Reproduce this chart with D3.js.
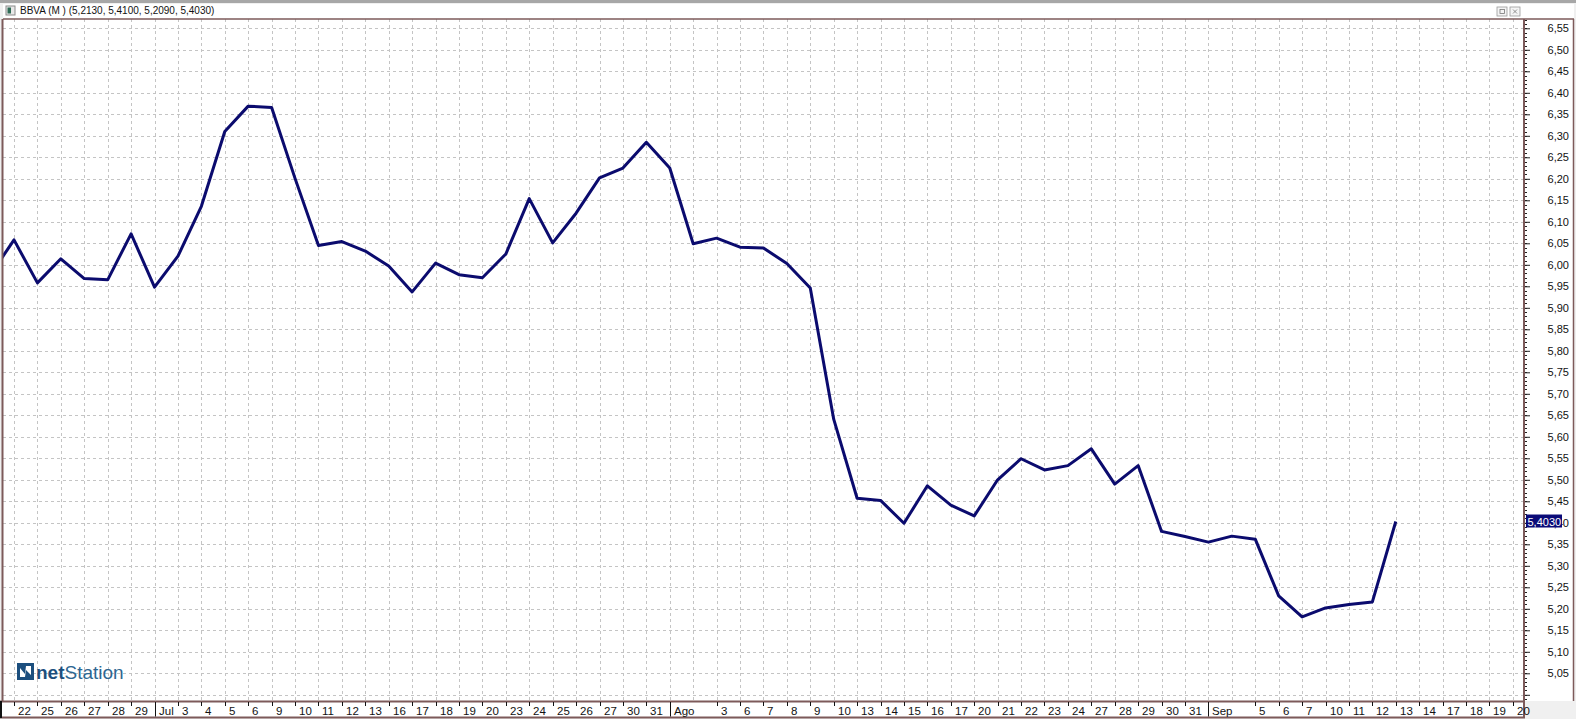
<!DOCTYPE html>
<html>
<head>
<meta charset="utf-8">
<script src="https://cdn.jsdelivr.net/npm/d3@7"></script>
<style>
body { margin:0; background:#f0f0f0; }
svg text { font-family: "Liberation Sans", Arial, sans-serif; }
</style>
</head>
<body>
<div id="chart"></div>
<script>
// trading days shown on the x axis (first one is only partly visible at the left edge)
var days = ["2012-06-21","2012-06-22","2012-06-25","2012-06-26","2012-06-27","2012-06-28","2012-06-29",
  "2012-07-02","2012-07-03","2012-07-04","2012-07-05","2012-07-06","2012-07-09","2012-07-10","2012-07-11",
  "2012-07-12","2012-07-13","2012-07-16","2012-07-17","2012-07-18","2012-07-19","2012-07-20","2012-07-23",
  "2012-07-24","2012-07-25","2012-07-26","2012-07-27","2012-07-30","2012-07-31","2012-08-01","2012-08-02",
  "2012-08-03","2012-08-06","2012-08-07","2012-08-08","2012-08-09","2012-08-10","2012-08-13","2012-08-14",
  "2012-08-15","2012-08-16","2012-08-17","2012-08-20","2012-08-21","2012-08-22","2012-08-23","2012-08-24",
  "2012-08-27","2012-08-28","2012-08-29","2012-08-30","2012-08-31","2012-09-03","2012-09-04","2012-09-05",
  "2012-09-06","2012-09-07","2012-09-10","2012-09-11","2012-09-12","2012-09-13","2012-09-14","2012-09-17",
  "2012-09-18","2012-09-19","2012-09-20"]

var dayLabels = ["","22","25","26","27","28","29","Jul","3","4","5","6","9","10","11","12","13","16","17",
  "18","19","20","23","24","25","26","27","30","31","Ago","","3","6","7","8","9","10","13","14","15","16",
  "17","20","21","22","23","24","27","28","29","30","31","Sep","","5","6","7","10","11","12","13","14","17",
  "18","19","20"]

var monthStarts = ["2012-07-02","2012-08-01","2012-09-03"]

// closing prices, one per trading day up to 2012-09-13
var closes = [5.977,6.058,5.958,6.014,5.968,5.965,6.072,5.948,6.020,6.136,6.310,6.369,6.366,6.201,6.045,
  6.054,6.032,5.997,5.937,6.004,5.977,5.970,6.025,6.154,6.051,6.120,6.202,6.225,6.285,6.225,6.049,6.062,
  6.041,6.039,6.003,5.946,5.641,5.457,5.452,5.399,5.486,5.441,5.416,5.500,5.549,5.523,5.533,5.572,5.490,
  5.533,5.380,5.368,5.355,5.369,5.362,5.230,5.181,5.202,5.210,5.216,5.403]

var lastBar = ["5,2130","5,4100","5,2090","5,4030"]
var lastClose = 5.403

var width = 1576, height = 719
var pLeft = 3, pRight = 1524, pTop = 19, pBottom = 701
var brown = "#7d5a5a"

var x = d3.scalePoint().domain(days).range([14 - 23.42, 14 + 64 * 23.42])
var y = d3.scaleLinear().domain([5.05, 6.55]).range([673.3, 28.3])

var svg = d3.select("#chart").append("svg")
    .attr("width", width)
    .attr("height", height)

svg.append("rect").attr("width", width).attr("height", height).attr("fill", "#f0f0f0")

// window frame and header
svg.append("rect").attr("x", 0).attr("y", 0).attr("width", width).attr("height", 3).attr("fill", "#a7a7a7")
svg.append("rect").attr("x", pLeft).attr("y", 4).attr("width", 1571).attr("height", pTop - 4).attr("fill", "white")
svg.append("rect").attr("x", pLeft).attr("y", pTop).attr("width", pRight - pLeft).attr("height", pBottom - pTop).attr("fill", "white")
svg.append("rect").attr("x", pRight).attr("y", pTop).attr("width", 1574 - pRight).attr("height", pBottom - pTop).attr("fill", "white")

var icon = svg.append("g").attr("transform", "translate(6,6)")
icon.append("rect").attr("width", 9).attr("height", 9).attr("fill", "#e8e8e8").attr("stroke", "#8a8a8a")
icon.append("rect").attr("x", 1.5).attr("y", 1.5).attr("width", 3.5).attr("height", 6).attr("fill", "#2f6b55")

svg.append("text")
    .attr("x", 20).attr("y", 14)
    .attr("font-size", 10)
    .attr("fill", "#111")
    .text("BBVA (M ) (" + lastBar.join(", ") + ")")

var btn = svg.selectAll(".btn").data([1497, 1510]).enter().append("g")
    .attr("transform", function(d){ return "translate(" + d + ",7)" })
btn.append("rect").attr("width", 10).attr("height", 9).attr("fill", "#f4f4f4").attr("stroke", "#9a9a9a").attr("stroke-width", 0.8)
svg.append("rect").attr("x", 1500).attr("y", 9.5).attr("width", 4.5).attr("height", 4).attr("fill", "none").attr("stroke", "#777").attr("stroke-width", 0.8)
svg.append("path").attr("d", "M1513,9.5L1517,13.5M1517,9.5L1513,13.5").attr("stroke", "#777").attr("stroke-width", 0.8)

// grid
var yGrid = d3.range(0, 32).map(function(i){ return +(5.00 + i * 0.05).toFixed(2) })
svg.append("g").selectAll("line").data(yGrid).enter().append("line")
    .attr("x1", pLeft).attr("x2", pRight)
    .attr("y1", function(d){ return Math.round(y(d)) + 0.5 })
    .attr("y2", function(d){ return Math.round(y(d)) + 0.5 })
    .attr("stroke", "#c4c4c4").attr("stroke-dasharray", "3,3")

svg.append("g").selectAll("line").data(days.slice(1)).enter().append("line")
    .attr("x1", function(d){ return Math.round(x(d)) + 0.5 })
    .attr("x2", function(d){ return Math.round(x(d)) + 0.5 })
    .attr("y1", pTop).attr("y2", pBottom)
    .attr("stroke", "#c4c4c4").attr("stroke-dasharray", "3,3")

// logo
var logo = svg.append("g").attr("transform", "translate(17,663)")
logo.append("rect").attr("width", 17).attr("height", 17).attr("fill", "#1c4f7e")
logo.append("path").attr("d", "M3,14L3,5L8,11L9,3L14,3L14,12L9,7L8,14Z").attr("fill", "white")
logo.append("text").attr("x", 19).attr("y", 15.5).attr("font-size", 19)
    .attr("fill", "#1c4f7e")
    .html('<tspan font-weight="bold">net</tspan><tspan fill="#2c6691">Station</tspan>')

// price line
svg.append("clipPath").attr("id", "plot-clip").append("rect")
    .attr("x", pLeft).attr("y", pTop).attr("width", pRight - pLeft).attr("height", pBottom - pTop)

var line = d3.line()
    .x(function(d, i){ return x(days[i]) })
    .y(function(d){ return y(d) })

svg.append("path")
    .datum(closes)
    .attr("clip-path", "url(#plot-clip)")
    .attr("d", line)
    .attr("fill", "none")
    .attr("stroke", "#0b0b6e")
    .attr("stroke-width", 3)
    .attr("stroke-linejoin", "round")

// borders
svg.append("line").attr("x1", pLeft).attr("x2", 1574).attr("y1", pTop).attr("y2", pTop).attr("stroke", brown).attr("stroke-width", 1.5)
svg.append("line").attr("x1", 2.5).attr("x2", 2.5).attr("y1", pTop).attr("y2", pBottom).attr("stroke", brown).attr("stroke-width", 2)
svg.append("line").attr("x1", 1573.5).attr("x2", 1573.5).attr("y1", pTop).attr("y2", pBottom).attr("stroke", brown).attr("stroke-width", 1.5)

// right axis
var yAxis = d3.axisRight(y)
    .tickValues(yGrid)
    .tickSize(6)
    .tickFormat(function(d){ return d >= 5.04 ? d3.format(".2f")(d).replace(".", ",") : "" })

var minor = d3.range(0, 159).map(function(i){ return +(4.99 + i * 0.01).toFixed(2) })
svg.append("g").selectAll("line").data(minor).enter().append("line")
    .attr("x1", pRight).attr("x2", pRight + 3)
    .attr("y1", function(d){ return Math.round(y(d)) + 0.5 })
    .attr("y2", function(d){ return Math.round(y(d)) + 0.5 })
    .attr("stroke", "#222")

var ya = svg.append("g").attr("transform", "translate(" + pRight + ",0)").call(yAxis)
ya.select(".domain").remove()
ya.selectAll(".tick line").attr("stroke", "#222")
ya.selectAll(".tick text")
    .attr("x", 45).attr("text-anchor", "end")
    .attr("font-family", "Liberation Sans, Arial, sans-serif")
    .attr("font-size", 11).attr("fill", "#111")

svg.append("line").attr("x1", pRight).attr("x2", pRight).attr("y1", pTop).attr("y2", pBottom + 1).attr("stroke", brown).attr("stroke-width", 2)

// last price flag
var flag = svg.append("g").attr("transform", "translate(1526," + y(lastClose) + ")")
flag.append("rect").attr("x", 0).attr("y", -7).attr("width", 36).attr("height", 13).attr("fill", "#0b0b78")
flag.append("text").attr("x", 1.5).attr("y", 4).attr("font-size", 11).attr("fill", "white")
    .text(d3.format(".4f")(lastClose).replace(".", ","))

// date strip
svg.append("rect").attr("x", 0).attr("y", pBottom).attr("width", pRight).attr("height", 17).attr("fill", "white")
svg.append("line").attr("x1", 0).attr("x2", pRight + 1).attr("y1", pBottom + 0.5).attr("y2", pBottom + 0.5).attr("stroke", brown).attr("stroke-width", 2)
svg.append("line").attr("x1", 0).attr("x2", pRight + 1).attr("y1", 717.5).attr("y2", 717.5).attr("stroke", brown).attr("stroke-width", 2)
svg.append("line").attr("x1", 1).attr("x2", 1).attr("y1", pBottom).attr("y2", 718).attr("stroke", "#111").attr("stroke-width", 2)
svg.append("line").attr("x1", pRight).attr("x2", pRight).attr("y1", pBottom).attr("y2", 718).attr("stroke", brown).attr("stroke-width", 2)

var labelled = days.map(function(d, i){ return {day: d, label: dayLabels[i]} })
    .filter(function(d){ return d.label !== "" && x(d.day) < pRight })

var xt = svg.append("g").selectAll("g").data(labelled).enter().append("g")
    .attr("transform", function(d){ return "translate(" + (Math.round(x(d.day)) + 0.5) + ",0)" })
xt.append("line")
    .attr("y1", pBottom + 1)
    .attr("y2", function(d){ return monthStarts.indexOf(d.day) >= 0 ? 716.5 : pBottom + 5 })
    .attr("stroke", "#111")
xt.append("text")
    .attr("x", 3.5).attr("y", 714.5)
    .attr("font-size", 11.5).attr("fill", "#111")
    .text(function(d){ return d.label })
</script>
</body>
</html>
